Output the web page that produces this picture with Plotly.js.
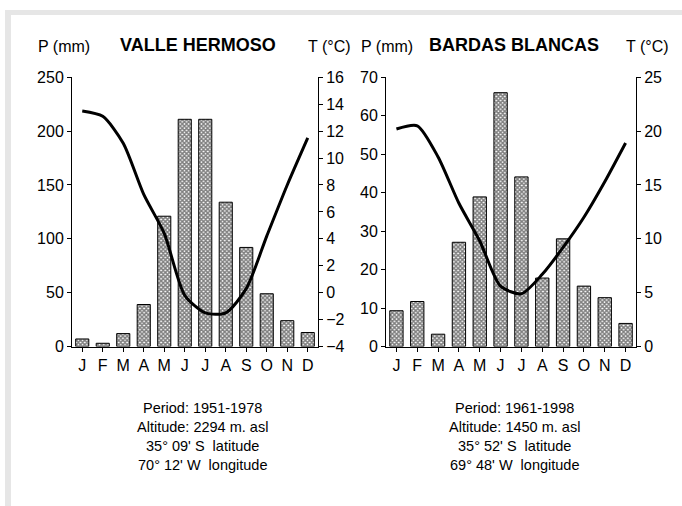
<!DOCTYPE html>
<html>
<head>
<meta charset="utf-8">
<script src="https://cdn.plot.ly/plotly-3.0.1.min.js"></script>
<style>html,body{margin:0;padding:0;background:#fff;}#chart{width:682px;height:506px;}</style>
</head>
<body>
<div id="chart"></div>
<script>
const months = ['J','F','M','A','M','J','J','A','S','O','N','D'];
const monthIdx = [0,1,2,3,4,5,6,7,8,9,10,11];
const vhPrecip = [7, 3, 12, 39, 121, 211, 211, 134, 92, 49, 24, 13];
const vhTemp = [13.5, 13.1, 11.1, 7.3, 4.4, -0.2, -1.5, -1.5, 0.3, 4.2, 8.0, 11.5];
const bbPrecip = [9.3, 11.7, 3.2, 27.1, 38.9, 66, 44.1, 17.8, 28, 15.7, 12.7, 6.0];
const bbTemp = [20.2, 20.5, 17.6, 13.3, 9.8, 5.6, 4.9, 6.7, 9.2, 12.0, 15.3, 18.9];

const font = 'Liberation Sans, Arial, sans-serif';
const pattern = {shape: 'x', size: 3, solidity: 0.75, fgcolor: '#000', bgcolor: '#fff', fillmode: 'overlay'};

const bar = (y, xa, ya) => ({
  type: 'bar', x: monthIdx, y: y, xaxis: xa, yaxis: ya,
  marker: {color: '#fff', pattern: pattern, line: {color: '#000', width: 1}},
  hoverinfo: 'skip'
});
const line = (y, xa, ya) => ({
  type: 'scatter', mode: 'lines', x: monthIdx, y: y, xaxis: xa, yaxis: ya,
  line: {color: '#000', width: 3, shape: 'spline', smoothing: 0.7},
  hoverinfo: 'skip'
});

const data = [
  bar(vhPrecip, 'x', 'y'),
  line(vhTemp, 'x', 'y2'),
  bar(bbPrecip, 'x2', 'y3'),
  line(bbTemp, 'x2', 'y4')
];

const yTop = 1 - 77.3/506, yBot = 1 - 346.5/506;
const axCommon = {showgrid: false, zeroline: false, showline: true, linecolor: '#000', linewidth: 1,
  ticks: 'outside', ticklen: 4, tickcolor: '#000', tickfont: {family: font, size: 16, color: '#000'}};
const xCommon = Object.assign({}, axCommon, {
  tickmode: 'array', tickvals: monthIdx, ticktext: months, range: [-0.5, 11.5],
  tickson: 'boundaries', ticklen: 4, tickfont: {family: font, size: 16, color: '#000'}
});

const layout = {
  width: 682, height: 506,
  margin: {l: 0, r: 0, t: 0, b: 0},
  paper_bgcolor: '#fff', plot_bgcolor: 'rgba(0,0,0,0)',
  showlegend: false, bargap: 0.36,
  xaxis: Object.assign({}, xCommon, {domain: [72/682, 318/682], anchor: 'y'}),
  yaxis: Object.assign({}, axCommon, {domain: [yBot, yTop], range: [0, 250], dtick: 50, anchor: 'x'}),
  yaxis2: Object.assign({}, axCommon, {overlaying: 'y', side: 'right', range: [-4, 16], dtick: 2, anchor: 'x'}),
  xaxis2: Object.assign({}, xCommon, {domain: [386/682, 636/682], anchor: 'y3'}),
  yaxis3: Object.assign({}, axCommon, {domain: [yBot, yTop], range: [0, 70], dtick: 10, anchor: 'x2'}),
  yaxis4: Object.assign({}, axCommon, {overlaying: 'y3', side: 'right', range: [0, 25], dtick: 5, anchor: 'x2'}),
  shapes: [
    {type: 'rect', xref: 'paper', yref: 'paper', x0: 5/682, x1: 1, y0: 1 - 15/506, y1: 1 - 10/506, fillcolor: '#e6e6e6', line: {width: 0}, layer: 'below'},
    {type: 'rect', xref: 'paper', yref: 'paper', x0: 5/682, x1: 11/682, y0: 0, y1: 1 - 10/506, fillcolor: '#e6e6e6', line: {width: 0}, layer: 'below'}
  ],
  annotations: []
};

const ann = (text, x, y, size, bold) => ({
  text: bold ? '<b>' + text + '</b>' : text, xref: 'paper', yref: 'paper',
  x: x/682, y: 1 - y/506, xanchor: 'center', yanchor: 'middle', showarrow: false,
  font: {family: font, size: size, color: '#000'}
});
layout.annotations.push(
  ann('P (mm)', 64, 46, 16, false),
  ann('VALLE HERMOSO', 198, 45, 18, true),
  ann('T (°C)', 329, 46, 16, false),
  ann('P (mm)', 387, 46, 16, false),
  ann('BARDAS BLANCAS', 514, 45, 18, true),
  ann('T (°C)', 647, 46, 16, false)
);
const info1 = ['Period: 1951-1978', 'Altitude: 2294 m. asl', '35° 09\' S&nbsp;&nbsp;latitude', '70° 12\' W&nbsp;&nbsp;longitude'];
const info2 = ['Period: 1961-1998', 'Altitude: 1450 m. asl', '35° 52\' S&nbsp;&nbsp;latitude', '69° 48\' W&nbsp;&nbsp;longitude'];
const lineYs = [408, 427, 446, 465];
info1.forEach((t, i) => layout.annotations.push(ann(t, 202, lineYs[i], 14.5, false)));
info2.forEach((t, i) => layout.annotations.push(ann(t, 514, lineYs[i], 14.5, false)));

Plotly.newPlot('chart', data, layout, {staticPlot: true, displayModeBar: false});
</script>
</body>
</html>
